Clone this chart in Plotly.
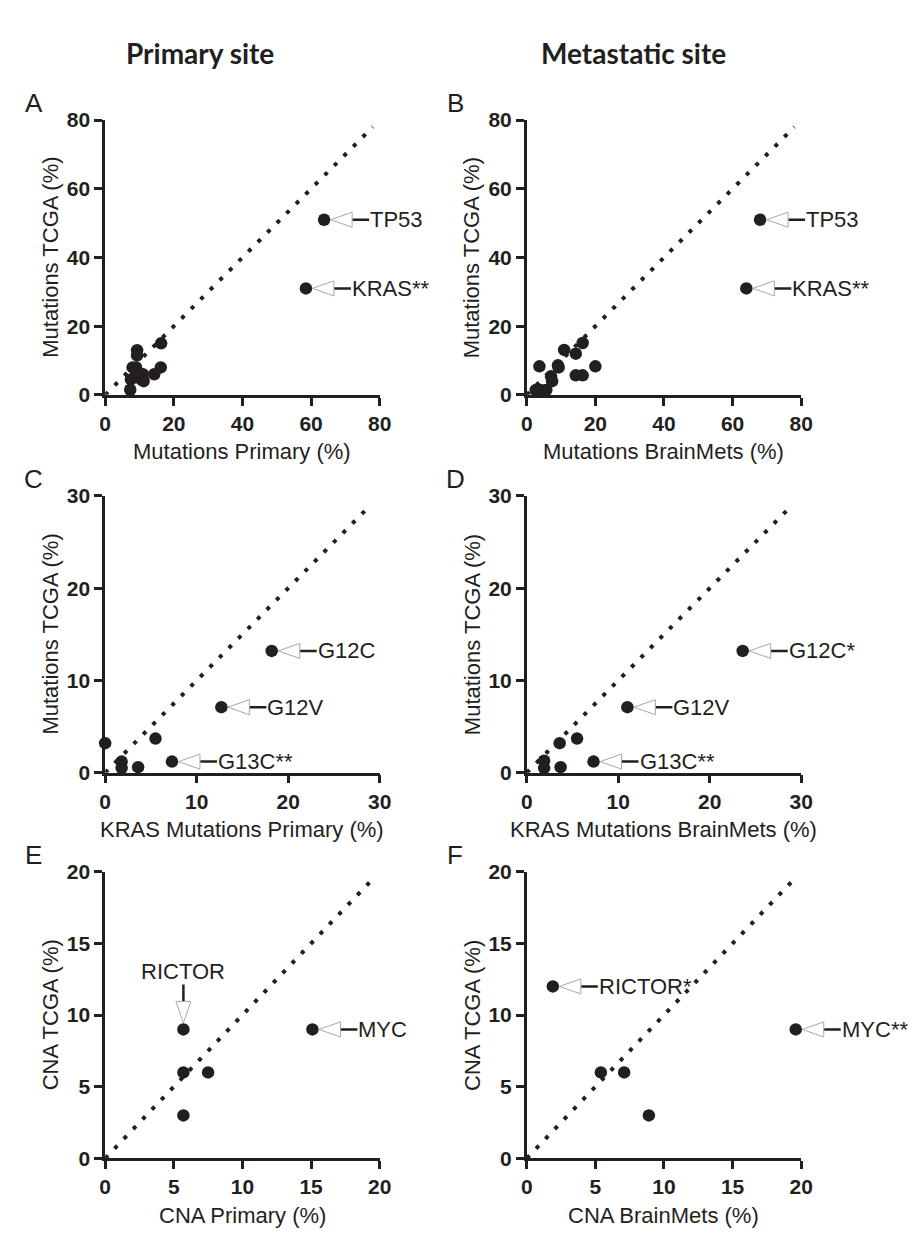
import plotly.graph_objects as go

W, H = 917, 1233

# ---------------- data ----------------
# A: Mutations Primary vs TCGA
a_x = [7.3, 7.5, 8.0, 9.0, 9.0, 9.3, 9.3, 10.0, 10.5, 11.0, 11.2, 14.3, 16.2, 16.3, 58.5, 63.8]
a_y = [1.5, 4.5, 8.0, 5.5, 8.0, 11.5, 13.0, 6.0, 4.5, 6.0, 4.0, 6.0, 8.0, 15.0, 31.0, 51.0]
a_lab = {14: "KRAS**", 15: "TP53"}
# B: Mutations BrainMets vs TCGA
b_x = [2.6, 4.0, 3.7, 5.7, 7.1, 7.4, 9.1, 9.3, 10.9, 14.3, 14.3, 16.3, 16.3, 20.0, 64.0, 68.0]
b_y = [1.4, 1.4, 8.3, 1.4, 5.4, 4.0, 8.6, 8.0, 13.1, 12.0, 5.7, 15.1, 5.7, 8.3, 31.0, 51.0]
b_lab = {14: "KRAS**", 15: "TP53"}
# C: KRAS Mutations Primary vs TCGA
c_x = [0.0, 1.8, 1.8, 3.6, 5.5, 7.3, 12.7, 18.2]
c_y = [3.2, 1.2, 0.5, 0.6, 3.7, 1.2, 7.1, 13.2]
c_lab = {5: "G13C**", 6: "G12V", 7: "G12C"}
# D: KRAS Mutations BrainMets vs TCGA
d_x = [1.9, 1.9, 3.7, 3.6, 5.5, 7.3, 11.0, 23.6]
d_y = [1.3, 0.5, 0.6, 3.2, 3.7, 1.2, 7.1, 13.2]
d_lab = {5: "G13C**", 6: "G12V", 7: "G12C*"}
# E: CNA Primary vs TCGA
e_x = [5.7, 5.7, 5.7, 7.5, 15.1]
e_y = [9.0, 6.0, 3.0, 6.0, 9.0]
e_lab = {0: "RICTOR", 4: "MYC"}
e_dir = {0: "up"}
# F: CNA BrainMets vs TCGA
f_x = [1.9, 5.4, 7.1, 8.9, 19.6]
f_y = [12.0, 6.0, 6.0, 3.0, 9.0]
f_lab = {0: "RICTOR*", 4: "MYC**"}

ticks_mut = [0, 20, 40, 60, 80]
ticks_kras = [0, 10, 20, 30]
ticks_cna = [0, 5, 10, 15, 20]
diag_mut = [0, 78]
diag_kras = [0, 29]
diag_cna = [0, 19.5]

FONT = "Liberation Sans, Arial, sans-serif"
INK = "#231f20"
EXT = 1.35  # widening factor of the hidden overlay axes used for call-out shapes

panels = [
    dict(L="A", x=a_x, y=a_y, lab=a_lab, dirs={}, ticks=ticks_mut, diag=diag_mut,
         xt="Mutations Primary (%)", yt="Mutations TCGA (%)", px=(93, 373, 102, 382)),
    dict(L="B", x=b_x, y=b_y, lab=b_lab, dirs={}, ticks=ticks_mut, diag=diag_mut,
         xt="Mutations BrainMets (%)", yt="Mutations TCGA (%)", px=(523, 803, 102, 382)),
    dict(L="C", x=c_x, y=c_y, lab=c_lab, dirs={}, ticks=ticks_kras, diag=diag_kras,
         xt="KRAS Mutations Primary (%)", yt="Mutations TCGA (%)", px=(93, 373, 485, 767)),
    dict(L="D", x=d_x, y=d_y, lab=d_lab, dirs={}, ticks=ticks_kras, diag=diag_kras,
         xt="KRAS Mutations BrainMets (%)", yt="Mutations TCGA (%)", px=(523, 803, 485, 767)),
    dict(L="E", x=e_x, y=e_y, lab=e_lab, dirs=e_dir, ticks=ticks_cna, diag=diag_cna,
         xt="CNA Primary (%)", yt="CNA TCGA (%)", px=(93, 373, 868, 1160)),
    dict(L="F", x=f_x, y=f_y, lab=f_lab, dirs={}, ticks=ticks_cna, diag=diag_cna,
         xt="CNA BrainMets (%)", yt="CNA TCGA (%)", px=(523, 803, 868, 1160)),
]

fig = go.Figure()
shapes = []
annotations = []


def fx(px):
    return px / W


def fy(py):
    return 1 - py / H


layout_axes = {}
N = len(panels)
# hidden overlay subplots first, so the visible ones are drawn on top of them
for i, p in enumerate(panels):
    h = i + 1 + N
    fig.add_trace(go.Scatter(
        x=p["x"], y=p["y"], xaxis=f"x{h}", yaxis=f"y{h}", mode="markers",
        marker=dict(opacity=0, size=1), hoverinfo="skip", showlegend=False))

for i, p in enumerate(panels):
    n = i + 1
    h = n + N  # hidden overlay axis index
    xa = "x" if n == 1 else f"x{n}"
    ya = "y" if n == 1 else f"y{n}"
    xh, yh = f"x{h}", f"y{h}"
    xkey = "xaxis" if n == 1 else f"xaxis{n}"
    ykey = "yaxis" if n == 1 else f"yaxis{n}"
    x0, x1, y0, y1 = p["px"]
    t = p["ticks"]
    axcommon = dict(
        range=[t[0], t[-1]], tickvals=t, ticks="outside", ticklen=8, tickwidth=2.5,
        tickcolor=INK, showline=True, linecolor=INK, linewidth=2.5, showgrid=False,
        zeroline=False, tickfont=dict(family=FONT, size=21, color=INK, weight="bold"),
        fixedrange=True,
    )
    xdom = [fx(x0), fx(x1)]
    ydom = [fy(y1), fy(y0)]
    layout_axes[xkey] = dict(axcommon, domain=xdom, anchor=ya)
    layout_axes[ykey] = dict(axcommon, domain=ydom, anchor=xa)
    # hidden, same-scale but wider axes so call-outs are not clipped at the axis end
    layout_axes[f"xaxis{h}"] = dict(
        visible=False, fixedrange=True, anchor=yh,
        domain=[xdom[0], xdom[0] + (xdom[1] - xdom[0]) * EXT],
        range=[t[0], t[0] + (t[-1] - t[0]) * EXT])
    layout_axes[f"yaxis{h}"] = dict(visible=False, fixedrange=True, anchor=xh,
                                    domain=ydom, range=[t[0], t[-1]])

    # identity reference line
    fig.add_trace(go.Scatter(
        x=p["diag"], y=p["diag"], xaxis=xa, yaxis=ya, mode="lines",
        line=dict(color=INK, width=4, dash="4px,9.5px"), cliponaxis=False,
        hoverinfo="skip", showlegend=False))
    # points
    fig.add_trace(go.Scatter(
        x=p["x"], y=p["y"], xaxis=xa, yaxis=ya, mode="markers",
        marker=dict(color=INK, size=12.5, line=dict(width=0)), cliponaxis=False,
        showlegend=False))

    # call-outs
    for idx, text in p["lab"].items():
        xv, yv = p["x"][idx], p["y"][idx]
        d = p["dirs"].get(idx, "right")
        base = dict(xref=xh, yref=yh, xsizemode="pixel", ysizemode="pixel",
                    xanchor=xv, yanchor=yv, layer="above")
        if d == "right":
            tri = "M 6.5,0 L 28,7.5 L 28,-7.5 Z"
            seg = "M 28.5,0 L 45,0"
            ann = dict(x=xv, y=yv, xref=xa, yref=ya, text=text, showarrow=False,
                       xanchor="left", yanchor="middle", xshift=44, yshift=0)
        else:
            tri = "M 0,6.5 L -7.5,28 L 7.5,28 Z"
            seg = "M 0,28.5 L 0,45"
            ann = dict(x=xv, y=yv, xref=xa, yref=ya, text=text, showarrow=False,
                       xanchor="center", yanchor="bottom", xshift=0, yshift=43)
        shapes.append(dict(base, type="path", path=tri, fillcolor="white",
                           line=dict(color="#a8a8a8", width=1)))
        shapes.append(dict(base, type="path", path=seg,
                           line=dict(color=INK, width=2.5)))
        ann["font"] = dict(family=FONT, size=22, color=INK)
        annotations.append(ann)

    # axis titles
    annotations.append(dict(x=fx((x0 + x1) / 2), y=fy(y1 + 58), xref="paper", yref="paper",
                            text=p["xt"], showarrow=False, xanchor="center", yanchor="middle",
                            font=dict(family=FONT, size=22, color=INK)))
    annotations.append(dict(x=fx(x0 - 56), y=fy((y0 + y1) / 2), xref="paper", yref="paper",
                            text=p["yt"], showarrow=False, textangle=-90,
                            xanchor="center", yanchor="middle",
                            font=dict(family=FONT, size=22, color=INK)))
    # panel letter
    annotations.append(dict(x=fx(x0 - 73), y=fy(y0 - 17), xref="paper", yref="paper",
                            text=p["L"], showarrow=False, xanchor="center", yanchor="middle",
                            font=dict(family=FONT, size=26, color=INK)))

# column headers
for txt, cx in [("Primary site", 190), ("Metastatic site", 632)]:
    annotations.append(dict(x=fx(cx), y=fy(34), xref="paper", yref="paper", text=f"<b>{txt}</b>",
                            showarrow=False, xanchor="center", yanchor="middle",
                            font=dict(family="Lato, Open Sans, sans-serif", size=28, color=INK)))

fig.update_layout(
    width=W, height=H, margin=dict(l=0, r=0, t=0, b=0),
    paper_bgcolor="white", plot_bgcolor="rgba(0,0,0,0)",
    shapes=shapes, annotations=annotations, showlegend=False,
    **layout_axes,
)

fig.write_html("out.html")
